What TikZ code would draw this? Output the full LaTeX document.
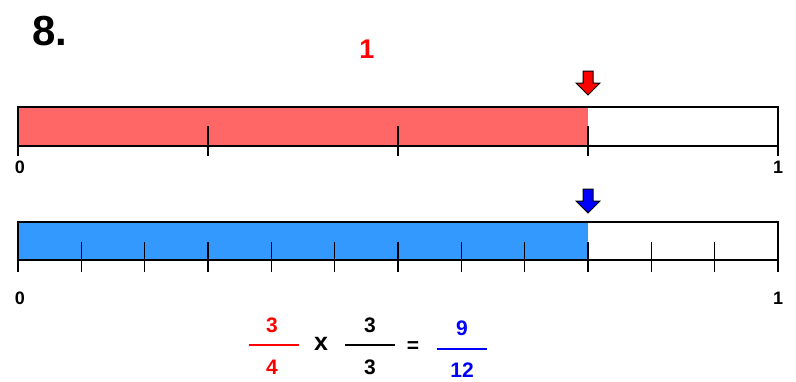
\documentclass[tikz,border=0pt]{standalone}
\usepackage{fontspec}
\setmainfont{Liberation Sans}
\usetikzlibrary{positioning,calc}
\definecolor{BarRed}{RGB}{255,102,102}
\definecolor{BarBlue}{RGB}{51,153,255}
\definecolor{MarkRed}{RGB}{255,0,0}
\definecolor{MarkBlue}{RGB}{0,0,255}

\begin{document}
\begin{tikzpicture}[
    x=1pt,y=-1pt,
    bar/.style={draw=black,line width=2pt},
    tick/.style={draw=black,line width=1.2pt},
    num/.style={font=\bfseries\fontsize{18}{18}\selectfont,inner sep=0pt},
    frac/.style={font=\bfseries\fontsize{21}{21}\selectfont,inner sep=0pt},
    marker/.style={draw=black,line width=1pt,line join=miter}
  ]
    \useasboundingbox (0,0) rectangle (796,381);
    \node[font=\bfseries\fontsize{42}{42}\selectfont,inner sep=0pt] (title) at (50,31) {8.};
    \node[font=\bfseries\fontsize{27}{27}\selectfont,text=MarkRed,inner sep=0pt] (whole) at (367,49) {1};
    % quarters
    \fill[BarRed] (18,107) rectangle (588,146);
    \foreach \i in {0,...,4}
      \draw[tick] ({18+190*\i},126) -- ({18+190*\i},156);
    \draw[bar] (18,107) rectangle (778,146);
    \node[num] (zeroA) at (20,167) {0};
    \node[num] (oneA) at (778,167) {1};
    \draw[marker,fill=MarkRed] (583,71) -- (593,71) -- (593,83) -- (600,83) -- (588,95) -- (576,83) -- (583,83) -- cycle;
    % twelfths
    \fill[BarBlue] (18,222) rectangle (588,260);
    \foreach \i in {0,...,12}
      \draw[tick] ({18+760/12*\i},242) -- ({18+760/12*\i},272);
    \draw[bar] (18,222) rectangle (778,260);
    \node[num] (zeroB) at (20,298) {0};
    \node[num] (oneB) at (778,298) {1};
    \draw[marker,fill=MarkBlue] (583,189) -- (593,189) -- (593,201) -- (600,201) -- (588,213) -- (576,201) -- (583,201) -- cycle;
    % fractions
    \node[frac,text=MarkRed] (numA) at (272,325) {3};
    \node[frac,text=MarkRed] (denA) at (272,367) {4};
    \draw[MarkRed,line width=2pt] (249,345) -- (299,345);
    \node[frac,font=\bfseries\fontsize{25}{25}\selectfont] (times) at (321,344) {x};
    \node[frac] (numB) at (370,325) {3};
    \node[frac] (denB) at (370,367) {3};
    \draw[black,line width=2pt] (345,345) -- (395,345);
    \node[frac] (equals) at (413,347) {=};
    \node[frac,text=MarkBlue] (numC) at (462,328) {9};
    \node[frac,text=MarkBlue] (denC) at (462,370) {12};
    \draw[MarkBlue,line width=2pt] (437,349) -- (487,349);
  \end{tikzpicture}
\end{document}
